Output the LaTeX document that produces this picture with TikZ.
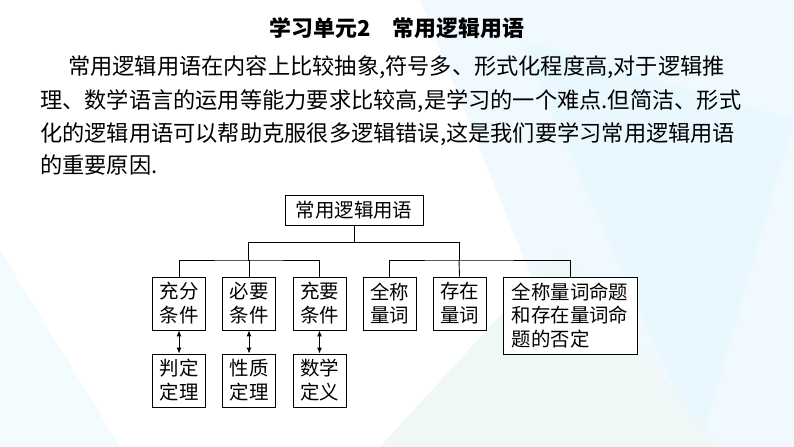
\documentclass[tikz,border=0pt]{standalone}
\usepackage{fontspec}
\newfontfamily\cjk{Noto Sans CJK SC}
\usetikzlibrary{arrows.meta}
\begin{document}
\begin{tikzpicture}[x=1bp,y=-1bp,
  bx/.style={draw,line width=0.9pt,fill=white,align=left,inner sep=0pt,font=\cjk\fontsize{19.5}{24}\selectfont},
  ln/.style={line width=0.9pt},
  ar/.style={line width=0.9pt,{Latex[length=6pt,width=5pt]}-{Latex[length=6pt,width=5pt]}},
  para/.style={anchor=west,inner sep=0pt,font=\cjk\fontsize{22.3}{24}\selectfont}]
\fill[white] (0,0) rectangle (794,447);
\fill[cyan!6] (420,0) -- (794,0) -- (794,447) -- (600,447) -- cycle;
\fill[cyan!9] (520,40) -- (794,120) -- (700,447) -- cycle;
\fill[teal!6] (380,447) -- (560,250) -- (720,447) -- cycle;
\fill[cyan!5] (0,250) -- (120,447) -- (0,447) -- cycle;
\node[font=\cjk\bfseries\fontsize{22}{24}\selectfont] (t) at (397,28) {学习单元2\quad 常用逻辑用语};
\node[para] (p1) at (68,67) {常用逻辑用语在内容上比较抽象,符号多、形式化程度高,对于逻辑推};
\node[para] (p2) at (40,101) {理、数学语言的运用等能力要求比较高,是学习的一个难点.但简洁、形式};
\node[para] (p3) at (40,134) {化的逻辑用语可以帮助克服很多逻辑错误,这是我们要学习常用逻辑用语};
\node[para] (p4) at (40,165) {的重要原因.};
\node[bx,minimum width=138bp,minimum height=30bp,align=center] (r) at (354,210) {常用逻辑用语};
\node[bx,minimum width=53bp,minimum height=53bp] (a1) at (179,303.5) {充分\\条件};
\node[bx,minimum width=53bp,minimum height=53bp] (a2) at (249,303.5) {必要\\条件};
\node[bx,minimum width=53bp,minimum height=53bp] (a3) at (319.5,303.5) {充要\\条件};
\node[bx,minimum width=53bp,minimum height=53bp] (a4) at (389.5,303.5) {全称\\量词};
\node[bx,minimum width=53bp,minimum height=53bp] (a5) at (459.5,303.5) {存在\\量词};
\node[bx,minimum width=134bp,minimum height=77bp] (a6) at (570,315.5) {全称量词命题\\和存在量词命\\题的否定};
\node[bx,minimum width=53bp,minimum height=53bp] (b1) at (179,380.5) {判定\\定理};
\node[bx,minimum width=53bp,minimum height=53bp] (b2) at (249,380.5) {性质\\定理};
\node[bx,minimum width=53bp,minimum height=53bp] (b3) at (319.5,380.5) {数学\\定义};
\coordinate (m) at (354,242);
\coordinate (gl) at (248,242);
\coordinate (gr) at (459,242);
\coordinate (hl) at (248,260);
\coordinate (hr) at (459,260);
\draw[ln] (r.south) -- (m);
\draw[ln] (gl) -- (gr);
\draw[ln] (gl) -- (hl);
\draw[ln] (gr) -- (hr);
\draw[ln] (a1.north) |- (hl) -| (a3.north);
\draw[ln] (hl) -| (a2.north);
\draw[ln] (a4.north) |- (hr) -| (a6.north);
\draw[ln] (hr) -- (a5.north);
\draw[ar] (a1) -- (b1);
\draw[ar] (a2) -- (b2);
\draw[ar] (a3) -- (b3);
\end{tikzpicture}
\end{document}
